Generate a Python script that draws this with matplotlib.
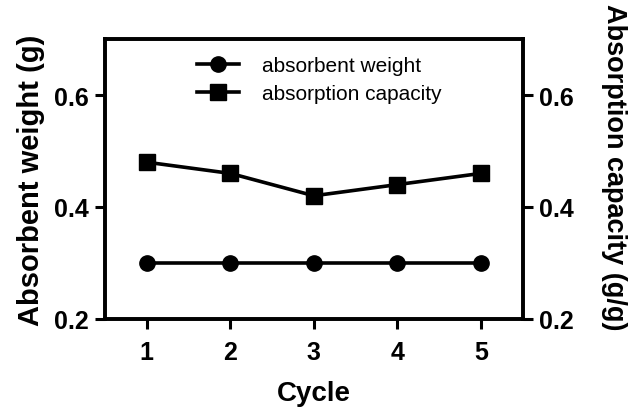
import matplotlib.pyplot as plt

cycles = [1, 2, 3, 4, 5]
absorbent_weight = [0.30, 0.30, 0.30, 0.30, 0.30]
absorption_capacity = [0.48, 0.46, 0.42, 0.44, 0.46]
yticks = [0.2, 0.4, 0.6]

plt.rcParams['font.family'] = ['Liberation Sans', 'DejaVu Sans']

fig = plt.figure(figsize=(6.29, 4.10), dpi=100)
ax = fig.add_axes([0.167, 0.22, 0.664, 0.682])
ax2 = ax.twinx()

l1, = ax.plot(cycles, absorbent_weight, color='black', lw=2.6, marker='o', ms=11, label='absorbent weight')
l2, = ax2.plot(cycles, absorption_capacity, color='black', lw=2.6, marker='s', ms=11, label='absorption capacity')

for a in (ax, ax2):
    a.set_ylim(0.2, 0.7)
    a.set_yticks(yticks)
    a.set_yticklabels([f"{v:.1f}" for v in yticks], fontsize=18, fontweight='bold')
    a.tick_params(width=2.2, length=7, pad=5)
    for s in a.spines.values():
        s.set_linewidth(2.6)

ax.set_xlim(0.5, 5.5)
ax.set_xticks(cycles)
ax.set_xticklabels([str(c) for c in cycles], fontsize=18, fontweight='bold')
ax.tick_params(axis='x', pad=8)
ax.set_xlabel('Cycle', fontsize=20, fontweight='bold', labelpad=12)
ax.set_ylabel('Absorbent weight (g)', fontsize=21, fontweight='bold', labelpad=6)
ax2.set_ylabel('Absorption capacity (g/g)', fontsize=19.5, fontweight='bold', rotation=270, labelpad=38)
ax2.yaxis.label.set_y(0.546)

ax.legend(handles=[l1, l2], loc='upper left', bbox_to_anchor=(0.22, 0.94), frameon=False,
          fontsize=15, handlelength=2.0, handletextpad=1.1, labelspacing=0.45,
          borderpad=0, borderaxespad=0)

fig.savefig('out.png', dpi=100)
